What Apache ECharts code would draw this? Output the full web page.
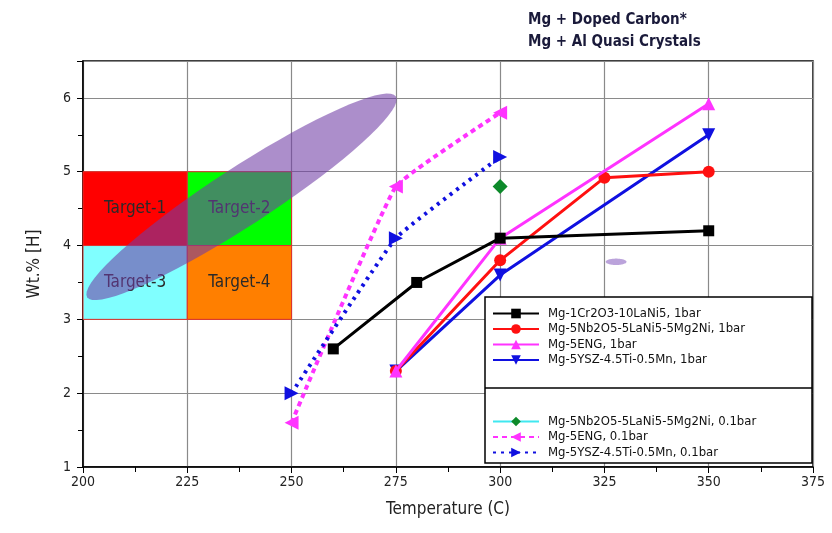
<!DOCTYPE html>
<html><head><meta charset="utf-8">
<script src="https://cdn.jsdelivr.net/npm/echarts@6/dist/echarts.min.js"></script>
<style>html,body{margin:0;padding:0;background:#fff}#c{width:832px;height:533px}</style>
</head><body><div id="c"></div><script>
// ---- data ----
const xMin = 200, xMax = 375, xStep = 25;
const yMin = 1, yMax = 6.5, yStep = 1;
const names = [
  'Mg-1Cr2O3-10LaNi5, 1bar',
  'Mg-5Nb2O5-5LaNi5-5Mg2Ni, 1bar',
  'Mg-5ENG, 1bar',
  'Mg-5YSZ-4.5Ti-0.5Mn, 1bar',
  'Mg-5Nb2O5-5LaNi5-5Mg2Ni, 0.1bar',
  'Mg-5ENG, 0.1bar',
  'Mg-5YSZ-4.5Ti-0.5Mn, 0.1bar'
];
const crLaNi_1bar   = [[260, 2.6], [280, 3.5], [300, 4.1], [350, 4.2]];
const nbLaNi_1bar   = [[275, 2.3], [300, 3.8], [325, 4.92], [350, 5.0]];
const eng_1bar      = [[275, 2.3], [300, 4.1], [350, 5.92]];
const ysz_1bar      = [[275, 2.3], [300, 3.6], [350, 5.5]];
const nbLaNi_01bar  = [[300, 4.8]];
const eng_01bar     = [[250, 1.6], [275, 4.8], [300, 5.8]];
const ysz_01bar     = [[250, 2.0], [275, 4.1], [300, 5.2]];
const targets = [
  {name: 'Target-1', x: [200, 225], y: [4, 5]},
  {name: 'Target-2', x: [225, 250], y: [4, 5]},
  {name: 'Target-3', x: [200, 225], y: [3, 4]},
  {name: 'Target-4', x: [225, 250], y: [3, 4]}
];
// ellipse regions: [x1, y1, x2, y2] long-axis end points
const bigRegion = [[201.0, 3.3, 275.0, 6.02]];
const smallRegion = [[325.3, 3.78, 330.3, 3.78]];
const noteLines = ['Mg + Doped Carbon*', 'Mg + Al Quasi Crystals'];

// ---- styles ----
const FONT = "'Liberation Sans Narrow','DejaVu Sans Condensed','Liberation Sans',Arial,sans-serif";
const targetColors = ['#ff0000', '#00ff00', '#80ffff', '#ff7f00'];

function ellipseSeries(data, ry, fill, z) {
  return {
    type: 'custom', name: '_e' + ry, z: z, silent: true, data: data,
    renderItem: function (params, api) {
      const p1 = api.coord([api.value(0), api.value(1)]);
      const p2 = api.coord([api.value(2), api.value(3)]);
      const cx = (p1[0] + p2[0]) / 2, cy = (p1[1] + p2[1]) / 2;
      const dx = p2[0] - p1[0], dy = p2[1] - p1[1];
      const rx = Math.sqrt(dx * dx + dy * dy) / 2;
      const a = Math.atan2(dy, dx);
      const pts = [];
      for (let i = 0; i < 72; i++) {
        const t = i / 72 * Math.PI * 2;
        const ex = rx * Math.cos(t), ey = ry * Math.sin(t);
        pts.push([cx + ex * Math.cos(a) - ey * Math.sin(a), cy + ex * Math.sin(a) + ey * Math.cos(a)]);
      }
      return {type: 'polygon', shape: {points: pts, smooth: 0}, style: {fill: fill, stroke: null}};
    }
  };
}

const chart = echarts.init(document.getElementById('c'));
const lineW = 3;
chart.setOption({
  animation: false,
  backgroundColor: '#fff',
  textStyle: {fontFamily: FONT},
  grid: {left: 83, right: 19, top: 61, bottom: 66, show: true, borderColor: '#000', borderWidth: 1.5, backgroundColor: '#fff'},
  xAxis: {
    type: 'value', min: xMin, max: xMax, interval: xStep,
    name: 'Temperature (C)', nameLocation: 'middle', nameGap: 34,
    nameTextStyle: {fontSize: 17, color: '#222', fontFamily: FONT},
    axisLine: {show: true, lineStyle: {color: '#000', width: 1.5}},
    axisTick: {show: true, length: 6, lineStyle: {color: '#000'}},
    minorTick: {show: true, splitNumber: 2, length: 5, lineStyle: {color: '#000'}},
    axisLabel: {fontSize: 14, color: '#222', margin: 8, fontFamily: FONT},
    splitLine: {show: true, lineStyle: {color: '#8a8a8a', width: 1.2}}
  },
  yAxis: {
    type: 'value', min: yMin, max: yMax, interval: yStep,
    name: 'Wt.% [H]', nameLocation: 'middle', nameGap: 40, nameRotate: 90,
    nameTextStyle: {fontSize: 17, color: '#222', fontFamily: FONT},
    axisLine: {show: true, lineStyle: {color: '#000', width: 1.5}},
    axisTick: {show: true, length: 6, lineStyle: {color: '#000'}},
    minorTick: {show: true, splitNumber: 2, length: 5, lineStyle: {color: '#000'}},
    axisLabel: {fontSize: 14, color: '#222', margin: 12, fontFamily: FONT,
      formatter: v => (Number.isInteger(v) ? String(v) : '')},
    splitLine: {show: true, lineStyle: {color: '#8a8a8a', width: 1.2}}
  },
  legend: [
    {
      data: names.slice(0, 4), orient: 'vertical', left: 487, top: 302,
      itemWidth: 46, itemHeight: 12, itemGap: 2.5, z: 20,
      textStyle: {fontSize: 13, color: '#111', fontFamily: FONT, padding: [0, 0, 0, 4]}
    },
    {
      data: names.slice(4), orient: 'vertical', left: 487, top: 410,
      itemWidth: 46, itemHeight: 12, itemGap: 2.5, z: 20,
      textStyle: {fontSize: 13, color: '#111', fontFamily: FONT, padding: [0, 0, 0, 4]}
    }
  ],
  graphic: [
    {type: 'rect', z: 15, shape: {x: 485, y: 297, width: 327, height: 166},
      style: {fill: '#fff', stroke: '#000', lineWidth: 1.5}},
    {type: 'line', z: 16, shape: {x1: 485, y1: 388, x2: 812, y2: 388},
      style: {stroke: '#000', lineWidth: 1.5}},
    {type: 'text', z: 16, left: 528, top: 9,
      style: {text: noteLines.join('\n'), font: "bold 15px " + FONT, fill: '#1a1a3a', lineHeight: 22}}
  ],
  series: [
    {
      type: 'line', name: '_targets', data: [], z: 1, silent: true,
      markArea: {
        silent: true,
        data: targets.map((t, i) => [
          {coord: [t.x[0], t.y[0]], itemStyle: {color: targetColors[i], borderColor: '#e0302a', borderWidth: 1},
           label: {show: true, position: 'inside', formatter: t.name, fontSize: 17, color: '#2a2a2a', fontFamily: FONT}},
          {coord: [t.x[1], t.y[1]]}
        ])
      }
    },
    ellipseSeries(bigRegion, 29, 'rgba(112,60,165,0.58)', 3),
    ellipseSeries(smallRegion, 3.2, 'rgba(170,140,210,0.8)', 3),
    {name: names[3], type: 'line', data: ysz_1bar, z: 5, symbol: 'triangle', symbolRotate: 180, symbolSize: 13,
      lineStyle: {color: '#1010e0', width: lineW}, itemStyle: {color: '#1010e0'}},
    {name: names[1], type: 'line', data: nbLaNi_1bar, z: 6, symbol: 'circle', symbolSize: 12,
      lineStyle: {color: '#ff1010', width: lineW}, itemStyle: {color: '#ff1010'}},
    {name: names[2], type: 'line', data: eng_1bar, z: 7, symbol: 'triangle', symbolSize: 13,
      lineStyle: {color: '#ff33ff', width: lineW}, itemStyle: {color: '#ff33ff'}},
    {name: names[0], type: 'line', data: crLaNi_1bar, z: 8, symbol: 'rect', symbolSize: 11,
      lineStyle: {color: '#000', width: lineW}, itemStyle: {color: '#000'}},
    {name: names[4], type: 'line', data: nbLaNi_01bar, z: 8, symbol: 'diamond', symbolSize: 15,
      lineStyle: {color: '#40e8f0', width: 4}, itemStyle: {color: '#0d8a2a'}},
    {name: names[5], type: 'line', data: eng_01bar, z: 7, smooth: 0.1, symbol: 'triangle', symbolRotate: 90, symbolSize: 14,
      lineStyle: {color: '#ff33ff', width: 4, type: [5, 4]}, itemStyle: {color: '#ff33ff'}},
    {name: names[6], type: 'line', data: ysz_01bar, z: 7, smooth: 0.1, symbol: 'triangle', symbolRotate: -90, symbolSize: 14,
      lineStyle: {color: '#1010e0', width: 4, type: [3, 5]}, itemStyle: {color: '#1010e0'}}
  ]
});
</script></body></html>
